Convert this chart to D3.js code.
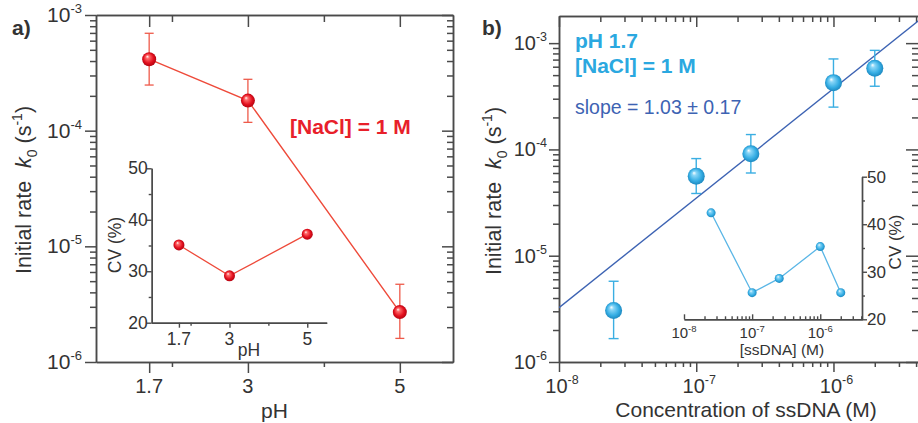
<!DOCTYPE html>
<html>
<head>
<meta charset="utf-8">
<script src="https://cdn.jsdelivr.net/npm/d3@7"></script>
<style>
  body { margin: 0; background: #fff; }
  svg { display: block; }
  text { font-family: "Liberation Sans", Arial, sans-serif; fill: #333; }
</style>
</head>
<body>
<svg id="fig" width="918" height="423"></svg>
<script>
// ---- data: panel a (rate vs pH) ----
const pH = [1.7, 3, 5];
const rateVsPH = [4.15e-4, 1.82e-4, 2.7e-6];
const rateVsPHLow = [2.48e-4, 1.18e-4, 1.6e-6];
const rateVsPHHigh = [6.95e-4, 2.78e-4, 4.7e-6];
const cvVsPH = [35.1, 29.1, 37.2];

// ---- data: panel b (rate vs ssDNA concentration) ----
const ssDNA = [2.5e-8, 1e-7, 2.5e-7, 1e-6, 2e-6];
const rateVsDNA = [3.05e-6, 5.6e-5, 9.1e-5, 4.25e-4, 5.8e-4];
const rateVsDNALow = [1.66e-6, 3.85e-5, 6.0e-5, 2.5e-4, 3.93e-4];
const rateVsDNAHigh = [5.75e-6, 8.2e-5, 1.38e-4, 7.1e-4, 8.55e-4];
const cvVsDNA = [42.4, 25.6, 28.6, 35.3, 25.6];

// linear fit in log-log space: log10(k0) = fitIntercept + fitSlope * log10(c)
const fitSlope = 1.03;
const fitSlopeErr = 0.17;
const fitIntercept = 2.752;

// ---- tick definitions ----
const pHMajorTicks = [1.7, 3, 5];
const pHMinorTicks = [2, 4];
const cvMajorTicks = [20, 30, 40, 50];
const cvMinorTicks = [25, 35, 45];

const svg = d3.select("#fig");
const AXIS = "#4a4a4a";
const RED_LINE = "#ee4a3a";
const RED_ERR = "#ee5a4a";
const BLUE = "#3aaee2";
const BLUE_FIT = "#3d63b3";

svg.append("rect").attr("width", 918).attr("height", 423).attr("fill", "#fff");

// shaded sphere markers
const defs = svg.append("defs");
function sphere(id, light, mid, dark) {
  const gr = defs.append("radialGradient").attr("id", id)
    .attr("cx", "50%").attr("cy", "50%").attr("r", "55%")
    .attr("fx", "36%").attr("fy", "30%");
  gr.append("stop").attr("offset", "0%").attr("stop-color", "#ffffff");
  gr.append("stop").attr("offset", "22%").attr("stop-color", light);
  gr.append("stop").attr("offset", "65%").attr("stop-color", mid);
  gr.append("stop").attr("offset", "100%").attr("stop-color", dark);
}
sphere("redBall", "#ff6a6a", "#e3101e", "#a8000e");
sphere("blueBall", "#8ad6f7", "#36aee4", "#1780b8");

// draws ticks (no labels) through d3.axis
function ticks(g, axis, values, size, width) {
  g.call(axis.tickValues(values).tickSize(size).tickSizeOuter(0).tickFormat(""));
  g.attr("color", AXIS);
  g.select(".domain").attr("stroke-width", width);
  g.selectAll(".tick line").attr("stroke-width", width);
  g.selectAll(".tick text").remove();
}

function isDecade(v) {
  const e = Math.log10(v);
  return Math.abs(e - Math.round(e)) < 1e-9;
}

function powText(sel, exp, sup, rise) {
  sel.append("tspan").text("10");
  sel.append("tspan").attr("dy", -rise).attr("font-size", sup).text(String(exp));
}

function errorBars(g, xs, lo, hi, x, y, cap, color, w) {
  const eb = g.append("g").attr("stroke", color).attr("stroke-width", w).attr("fill", "none");
  xs.forEach((xv, i) => {
    const cx = x(xv);
    eb.append("line").attr("x1", cx).attr("x2", cx).attr("y1", y(lo[i])).attr("y2", y(hi[i]));
    eb.append("line").attr("x1", cx - cap).attr("x2", cx + cap).attr("y1", y(lo[i])).attr("y2", y(lo[i]));
    eb.append("line").attr("x1", cx - cap).attr("x2", cx + cap).attr("y1", y(hi[i])).attr("y2", y(hi[i]));
  });
}

function balls(g, xs, ys, x, y, r, fill) {
  g.selectAll(null).data(xs).join("circle")
    .attr("cx", d => x(d)).attr("cy", (d, i) => y(ys[i])).attr("r", r)
    .attr("fill", `url(#${fill})`);
}

function yTitle(g, x, y, size) {
  const t = g.append("text").attr("transform", `translate(${x},${y}) rotate(-90)`)
    .attr("text-anchor", "middle").attr("font-size", size);
  t.append("tspan").text("Initial rate");
  t.append("tspan").attr("dx", size * 0.6).attr("font-style", "italic").text("k");
  t.append("tspan").attr("dy", size * 0.28).attr("font-size", size * 0.65).text("0");
  t.append("tspan").attr("dy", -size * 0.28).text(" (s");
  t.append("tspan").attr("dy", -size * 0.4).attr("font-size", size * 0.65).text("-1");
  t.append("tspan").attr("dy", size * 0.4).text(")");
}

// =================== panel a ===================
{
  const L = 96, R = 453, T = 15, B = 362;
  const x = d3.scaleLinear([1.0, 5.7], [L, R]);
  const y = d3.scaleLog([1e-6, 1e-3], [B, T]);
  const g = svg.append("g");
  const yAll = y.ticks();
  const yMaj = yAll.filter(isDecade), yMin = yAll.filter(v => !isDecade(v));

  ticks(g.append("g").attr("transform", `translate(${L},0)`), d3.axisLeft(y), yMin, 6, 1.5);
  ticks(g.append("g").attr("transform", `translate(${L},0)`), d3.axisLeft(y), yMaj, 11, 1.5);
  ticks(g.append("g").attr("transform", `translate(${R},0)`), d3.axisLeft(y), yMin, 6, 1.5);
  ticks(g.append("g").attr("transform", `translate(${R},0)`), d3.axisLeft(y), yMaj, 11, 1.5);
  ticks(g.append("g").attr("transform", `translate(0,${B})`), d3.axisBottom(x), pHMinorTicks, 5, 1.5);
  ticks(g.append("g").attr("transform", `translate(0,${B})`), d3.axisBottom(x), pHMajorTicks, 11, 1.5);
  ticks(g.append("g").attr("transform", `translate(0,${T})`), d3.axisBottom(x), pHMinorTicks, 7, 1.5);
  ticks(g.append("g").attr("transform", `translate(0,${T})`), d3.axisBottom(x), pHMajorTicks, 12, 1.5);

  yMaj.forEach(v => {
    const t = g.append("text").attr("x", L - 14).attr("y", y(v) + 7)
      .attr("text-anchor", "end").attr("font-size", 21);
    powText(t, Math.round(Math.log10(v)), 13, 9);
  });
  pHMajorTicks.forEach(v => {
    g.append("text").attr("x", x(v)).attr("y", 393).attr("text-anchor", "middle")
      .attr("font-size", 20).text(String(v));
  });
  g.append("text").attr("x", (L + R) / 2).attr("y", 418).attr("text-anchor", "middle")
    .attr("font-size", 21).text("pH");
  yTitle(g, 31, 190, 21.5);
  g.append("text").attr("x", 12).attr("y", 35).attr("font-size", 21).attr("font-weight", "bold")
    .attr("fill", "#222").text("a)");

  // series
  g.append("path").datum(pH)
    .attr("d", d3.line().x(d => x(d)).y((d, i) => y(rateVsPH[i])))
    .attr("fill", "none").attr("stroke", RED_LINE).attr("stroke-width", 1.4);
  errorBars(g, pH, rateVsPHLow, rateVsPHHigh, x, y, 4.5, RED_ERR, 1.3);
  balls(g, pH, rateVsPH, x, y, 7, "redBall");

  g.append("text").attr("x", 290).attr("y", 134).attr("font-size", 21)
    .attr("font-weight", "bold").style("fill", "#e8202a")
    .text("[NaCl] = 1 M");

  // ---- inset: CV vs pH ----
  const iL = 151.7, iR = 326.7, iT = 168.3, iB = 322.7;
  const xi = d3.scaleLinear([1.0, 5.5], [iL, iR]);
  const yi = d3.scaleLinear([20, 50], [iB, iT]);
  const gi = svg.append("g");
  ticks(gi.append("g").attr("transform", `translate(${iL},0)`), d3.axisLeft(yi), cvMinorTicks, 3, 1.4);
  ticks(gi.append("g").attr("transform", `translate(${iL},0)`), d3.axisLeft(yi), cvMajorTicks, 5, 1.4);
  ticks(gi.append("g").attr("transform", `translate(0,${iB})`), d3.axisBottom(xi), pHMinorTicks, 3, 1.4);
  ticks(gi.append("g").attr("transform", `translate(0,${iB})`), d3.axisBottom(xi), pHMajorTicks, 5, 1.4);
  cvMajorTicks.forEach(v => {
    gi.append("text").attr("x", iL - 4).attr("y", yi(v) + 6).attr("text-anchor", "end")
      .attr("font-size", 17.5).text(String(v));
  });
  pHMajorTicks.forEach(v => {
    gi.append("text").attr("x", xi(v)).attr("y", 345).attr("text-anchor", "middle")
      .attr("font-size", 17.5).text(String(v));
  });
  gi.append("text").attr("x", 249).attr("y", 356).attr("text-anchor", "middle")
    .attr("font-size", 17.5).text("pH");
  gi.append("text").attr("transform", `translate(${121},${245}) rotate(-90)`)
    .attr("text-anchor", "middle").attr("font-size", 17.5).text("CV (%)");
  gi.append("path").datum(pH)
    .attr("d", d3.line().x(d => xi(d)).y((d, i) => yi(cvVsPH[i])))
    .attr("fill", "none").attr("stroke", RED_LINE).attr("stroke-width", 1.3);
  balls(gi, pH, cvVsPH, xi, yi, 5.5, "redBall");
}

// =================== panel b ===================
{
  const L = 559, R = 919, T = 16, B = 362;
  const x = d3.scaleLog([1e-8, 4.2e-6], [L, R]);
  const y = d3.scaleLog([1e-6, 1.8e-3], [B, T]);
  const g = svg.append("g");
  const yAll = y.ticks();
  const yMaj = yAll.filter(isDecade), yMin = yAll.filter(v => !isDecade(v));
  const xAll = x.ticks();
  const xMaj = xAll.filter(isDecade), xMin = xAll.filter(v => !isDecade(v));

  ticks(g.append("g").attr("transform", `translate(${L},0)`), d3.axisLeft(y), yMin, 6, 1.5);
  ticks(g.append("g").attr("transform", `translate(${L},0)`), d3.axisLeft(y), yMaj, 10, 1.5);
  ticks(g.append("g").attr("transform", `translate(${R},0)`), d3.axisLeft(y), yMin, 7, 1.5);
  ticks(g.append("g").attr("transform", `translate(${R},0)`), d3.axisLeft(y), yMaj, 13, 1.5);
  ticks(g.append("g").attr("transform", `translate(0,${B})`), d3.axisBottom(x), xMin, 5, 1.5);
  ticks(g.append("g").attr("transform", `translate(0,${B})`), d3.axisBottom(x), xMaj, 10, 1.5);
  ticks(g.append("g").attr("transform", `translate(0,${T})`), d3.axisBottom(x), xMin, 6, 1.5);
  ticks(g.append("g").attr("transform", `translate(0,${T})`), d3.axisBottom(x), xMaj, 11, 1.5);

  yMaj.forEach(v => {
    const t = g.append("text").attr("x", L - 12).attr("y", y(v) + 7)
      .attr("text-anchor", "end").attr("font-size", 20);
    powText(t, Math.round(Math.log10(v)), 12.5, 9);
  });
  xMaj.forEach(v => {
    const t = g.append("text").attr("x", x(v) + 3).attr("y", 393)
      .attr("text-anchor", "middle").attr("font-size", 20);
    powText(t, Math.round(Math.log10(v)), 12.5, 9);
  });
  g.append("text").attr("x", 746).attr("y", 417).attr("text-anchor", "middle")
    .attr("font-size", 21).text("Concentration of ssDNA (M)");
  yTitle(g, 501, 191, 21.5);
  g.append("text").attr("x", 482).attr("y", 35).attr("font-size", 21).attr("font-weight", "bold")
    .attr("fill", "#222").text("b)");

  // fit line, clipped to the plot area
  defs.append("clipPath").attr("id", "clipB").append("rect")
    .attr("x", L).attr("y", T).attr("width", R - L).attr("height", B - T);
  const fitX = x.domain();
  g.append("path").datum(fitX)
    .attr("clip-path", "url(#clipB)")
    .attr("d", d3.line().x(d => x(d)).y(d => y(Math.pow(10, fitIntercept + fitSlope * Math.log10(d)))))
    .attr("fill", "none").attr("stroke", BLUE_FIT).attr("stroke-width", 1.4);

  errorBars(g, ssDNA, rateVsDNALow, rateVsDNAHigh, x, y, 5, BLUE, 1.4);
  balls(g, ssDNA, rateVsDNA, x, y, 8.5, "blueBall");

  g.append("text").attr("x", 575).attr("y", 48).attr("font-size", 21).attr("font-weight", "bold")
    .style("fill", "#2ba8e0").text("pH 1.7");
  g.append("text").attr("x", 575).attr("y", 73).attr("font-size", 21).attr("font-weight", "bold")
    .style("fill", "#2ba8e0").text("[NaCl] = 1 M");
  g.append("text").attr("x", 575).attr("y", 114).attr("font-size", 19.5)
    .style("fill", BLUE_FIT).text(`slope = ${fitSlope.toFixed(2)} ± ${fitSlopeErr.toFixed(2)}`);

  // ---- inset: CV vs ssDNA ----
  const iL = 684, iR = 862, iT = 176.7, iB = 319.3;
  const xi = d3.scaleLog([1e-8, 4.1e-6], [iL, iR]);
  const yi = d3.scaleLinear([20, 50], [iB, iT]);
  const gi = svg.append("g");
  const xiAll = xi.ticks();
  const xiMaj = xiAll.filter(isDecade), xiMin = xiAll.filter(v => !isDecade(v));
  ticks(gi.append("g").attr("transform", `translate(${iR},0)`), d3.axisRight(yi), cvMinorTicks, 3, 1.4);
  ticks(gi.append("g").attr("transform", `translate(${iR},0)`), d3.axisRight(yi), cvMajorTicks, 5, 1.4);
  ticks(gi.append("g").attr("transform", `translate(0,${iB})`), d3.axisTop(xi), xiMin, 3, 1.4);
  ticks(gi.append("g").attr("transform", `translate(0,${iB})`), d3.axisTop(xi), xiMaj, 5, 1.4);
  cvMajorTicks.forEach(v => {
    gi.append("text").attr("x", iR + 5).attr("y", yi(v) + 6).attr("text-anchor", "start")
      .attr("font-size", 17).text(String(v));
  });
  xiMaj.forEach(v => {
    const t = gi.append("text").attr("x", xi(v)).attr("y", 338)
      .attr("text-anchor", "middle").attr("font-size", 15);
    powText(t, Math.round(Math.log10(v)), 9.5, 6);
  });
  gi.append("text").attr("x", 782).attr("y", 355).attr("text-anchor", "middle")
    .attr("font-size", 15.5).text("[ssDNA] (M)");
  gi.append("text").attr("transform", `translate(${901},${242}) rotate(-90)`)
    .attr("text-anchor", "middle").attr("font-size", 17).text("CV (%)");
  gi.append("path").datum(ssDNA)
    .attr("d", d3.line().x(d => xi(d)).y((d, i) => yi(cvVsDNA[i])))
    .attr("fill", "none").attr("stroke", "#5ab6e6").attr("stroke-width", 1.3);
  balls(gi, ssDNA, cvVsDNA, xi, yi, 4.5, "blueBall");
}
</script>
</body>
</html>
